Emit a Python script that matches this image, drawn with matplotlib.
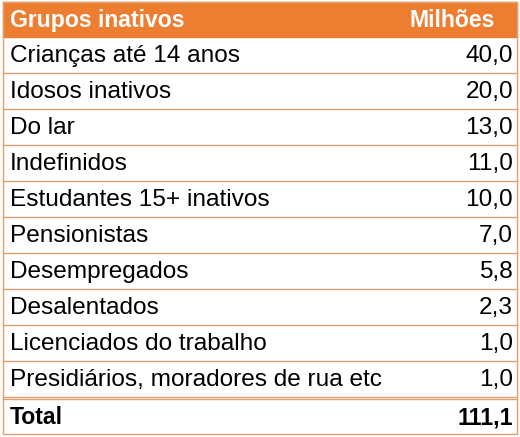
import matplotlib
matplotlib.use("Agg")
import matplotlib.pyplot as plt
from matplotlib.patches import Rectangle

header = ["Grupos inativos", "Milhões"]
categories = ["Crianças até 14 anos", "Idosos inativos", "Do lar", "Indefinidos",
              "Estudantes 15+ inativos", "Pensionistas", "Desempregados", "Desalentados",
              "Licenciados do trabalho", "Presidiários, moradores de rua etc"]
values = ["40,0", "20,0", "13,0", "11,0", "10,0", "7,0", "5,8", "2,3", "1,0", "1,0"]
total_label = "Total"
total_value = "111,1"

W, H = 520, 437
fig = plt.figure(figsize=(5.2, 4.37), dpi=100)
ax = fig.add_axes([0, 0, 1, 1])
ax.set_xlim(0, W); ax.set_ylim(H, 0); ax.axis("off")

orange = "#ED7D31"
line = "#E0A070"
left, right = 3, 517
top, hh, rh = 2, 35, 36
fam = ["Liberation Sans", "DejaVu Sans"]
fs = 17.6
fsb = 16.6

ax.add_patch(Rectangle((left, top), right - left, hh, color=orange, zorder=1))
ax.text(10, top + hh / 2 + 1, header[0], color="white", fontweight="bold", fontsize=fsb, family=fam, va="center")
ax.text(495, top + hh / 2 + 1, header[1], color="white", fontweight="bold", fontsize=fsb, family=fam, va="center", ha="right")

y0 = top + hh
for i, (c, v) in enumerate(zip(categories, values)):
    yc = y0 + i * rh + rh / 2
    ax.text(10, yc + 1, c, fontsize=fs, family=fam, va="center", color="black")
    ax.text(513, yc + 1, v, fontsize=fs, family=fam, va="center", ha="right", color="black")
    ax.plot([left, right], [y0 + (i + 1) * rh] * 2, color=line, lw=1, zorder=2)
ytot = y0 + len(categories) * rh + 2
ax.plot([left, right], [ytot, ytot], color=line, lw=1, zorder=2)
bottom = 434
ax.text(10, (ytot + bottom) / 2 + 1, total_label, fontsize=fsb, family=fam, va="center", fontweight="bold")
ax.text(513, (ytot + bottom) / 2 + 1, total_value, fontsize=fsb, family=fam, va="center", ha="right", fontweight="bold")
ax.plot([left, right, right, left, left], [top, top, bottom, bottom, top], color=line, lw=1, zorder=2)

fig.savefig("out.png", dpi=100, facecolor="white")
